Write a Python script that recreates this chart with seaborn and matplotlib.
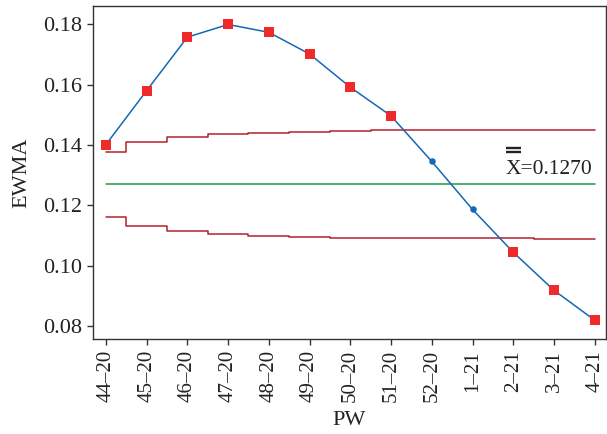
import numpy as np
import pandas as pd
import matplotlib
matplotlib.use("Agg")
import matplotlib.pyplot as plt
import seaborn as sns

# ---- data ----
weeks = ["44\u201320", "45\u201320", "46\u201320", "47\u201320", "48\u201320", "49\u201320",
         "50\u201320", "51\u201320", "52\u201320", "1\u201321", "2\u201321", "3\u201321", "4\u201321"]
ewma = [0.1401, 0.1580, 0.1757, 0.1799, 0.1773, 0.1701, 0.1591,
        0.1496, 0.1345, 0.1186, 0.1044, 0.0918, 0.0819]
ucl = [0.1378, 0.1408, 0.1425, 0.1435, 0.1441, 0.1444, 0.1447,
       0.1448, 0.1449, 0.1450, 0.1450, 0.1451, 0.1451]
lcl = [0.1162, 0.1132, 0.1115, 0.1105, 0.1099, 0.1096, 0.1093,
       0.1092, 0.1091, 0.1090, 0.1090, 0.1089, 0.1089]
center = 0.1270
center_label = "X=0.1270"
y_ticks = [0.08, 0.10, 0.12, 0.14, 0.16, 0.18]

# ---- styling ----
sns.set_theme(style="ticks")
plt.rcParams["font.family"] = ["Liberation Serif", "DejaVu Serif"]

pos = np.arange(len(weeks))
df = pd.DataFrame({"pos": pos, "ewma": ewma, "ucl": ucl, "lcl": lcl})
df["out"] = (df["ewma"] > df["ucl"]) | (df["ewma"] < df["lcl"])
df["center"] = center

fig = plt.figure(figsize=(6.07, 4.34), dpi=100)
ax = fig.add_axes([0.153, 0.219, 0.845, 0.767])

lim_color = "#b5202c"
sns.lineplot(data=df, x="pos", y="ucl", ax=ax, color=lim_color, lw=1.1,
             drawstyle="steps-mid", estimator=None, sort=False)
sns.lineplot(data=df, x="pos", y="lcl", ax=ax, color=lim_color, lw=1.1,
             drawstyle="steps-mid", estimator=None, sort=False)
sns.lineplot(data=df, x="pos", y="center", ax=ax, color="#1e9a46", lw=1.1,
             estimator=None, sort=False)
sns.lineplot(data=df, x="pos", y="ewma", ax=ax, color="#1667b5", lw=1.1,
             estimator=None, sort=False, zorder=3)
sns.scatterplot(data=df[~df["out"]], x="pos", y="ewma", ax=ax, color="#1667b5",
                marker="o", s=22, linewidth=0, zorder=4)
sns.scatterplot(data=df[df["out"]], x="pos", y="ewma", ax=ax, color="#ee2a2a",
                marker="s", s=50, linewidth=0, zorder=5)

# center label with double bar
ax.text(9.82, 0.1303, center_label, fontsize=15.5, color="#222222",
        ha="left", va="baseline")
ax.plot([9.82, 10.18], [0.1391, 0.1391], color="#222222", lw=1.7,
        solid_capstyle="butt")
ax.plot([9.82, 10.18], [0.1375, 0.1375], color="#222222", lw=1.7,
        solid_capstyle="butt")

ax.set_xlim(-0.32, 12.27)
ax.set_ylim(0.0757, 0.1860)
ax.set_xticks(pos)
ax.set_xticklabels(weeks, rotation=90, fontsize=15, color="#222222")
ax.set_yticks(y_ticks)
ax.set_yticklabels([f"{v:.2f}" for v in y_ticks], fontsize=16, color="#222222")
ax.set_xlabel("PW", fontsize=16, color="#222222", labelpad=6)
ax.set_ylabel("EWMA", fontsize=16, color="#222222", labelpad=8)

for s in ax.spines.values():
    s.set_color("#333333")
    s.set_linewidth(1.0)
ax.tick_params(axis="both", direction="out", length=4, width=1.0,
               color="#333333", pad=4)
ax.tick_params(top=False, right=False)

fig.savefig("out.png", dpi=100)
